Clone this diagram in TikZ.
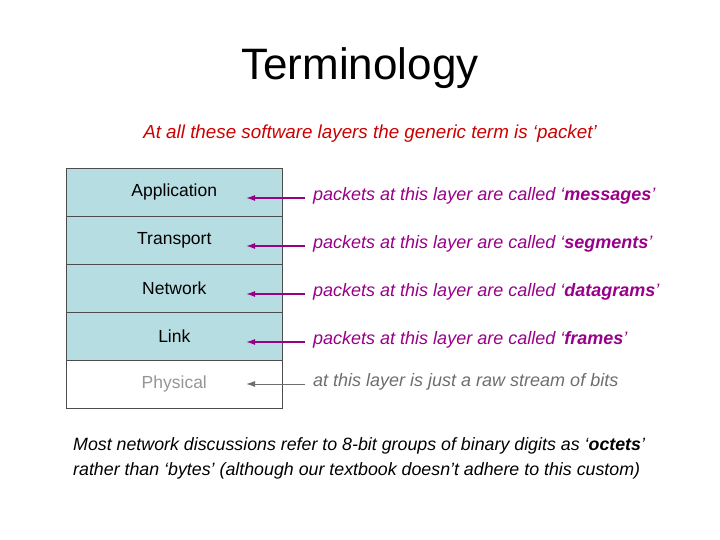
\documentclass[tikz,border=0pt]{standalone}
\usepackage{fontspec}
\setmainfont{Liberation Sans}
\usetikzlibrary{arrows.meta}
\definecolor{boxc}{RGB}{182,221,226}
\definecolor{mag}{RGB}{153,0,136}
\definecolor{redt}{RGB}{204,0,0}
\definecolor{grayt}{RGB}{150,150,150}
\definecolor{grayl}{RGB}{110,110,110}
\begin{document}
\begin{tikzpicture}[x=1pt,y=-1pt,
  layer/.style={draw=black!70,line width=0.6pt,minimum width=216pt,minimum height=48pt,inner sep=0pt,font=\fontsize{17.5}{20}\selectfont,anchor=north west},
  lbl/.style={anchor=west,font=\fontsize{18}{20}\selectfont\itshape,inner sep=0pt},
  arr/.style={-{Latex[length=9pt,width=6pt]},line width=1.4pt,mag}]
\useasboundingbox (0,0) rectangle (720,540);
\node[font=\fontsize{44}{50}\selectfont] (title) at (360,68) {Terminology};
\node[font=\fontsize{18.8}{20}\selectfont\itshape,text=redt] (sub) at (370,134) {At all these software layers the generic term is ‘packet’};
\node[layer,fill=boxc] (app) at (66,168) {\raisebox{-3pt}{Application}};
\node[layer,fill=boxc] (tra) at (66,216) {\raisebox{-3pt}{Transport}};
\node[layer,fill=boxc] (net) at (66,264) {\raisebox{-3pt}{Network}};
\node[layer,fill=boxc] (lnk) at (66,312) {\raisebox{-3pt}{Link}};
\node[layer,fill=white,text=grayt] (phy) at (66,360) {\raisebox{-3pt}{Physical}};
\node[lbl,text=mag] (l1) at (313,196) {packets at this layer are called ‘\textbf{messages}’};
\node[lbl,text=mag] (l2) at (313,244) {packets at this layer are called ‘\textbf{segments}’};
\node[lbl,text=mag] (l3) at (313,292) {packets at this layer are called ‘\textbf{datagrams}’};
\node[lbl,text=mag] (l4) at (313,340) {packets at this layer are called ‘\textbf{frames}’};
\node[lbl,text=grayl] (l5) at (313,382) {at this layer is just a raw stream of bits};
\coordinate (a1) at (305,198); \coordinate (b1) at (246,198);
\coordinate (a2) at (305,246); \coordinate (b2) at (246,246);
\coordinate (a3) at (305,294); \coordinate (b3) at (246,294);
\coordinate (a4) at (305,342); \coordinate (b4) at (246,342);
\coordinate (a5) at (305,384); \coordinate (b5) at (246,384);
\draw[arr] (a1) -- (b1);
\draw[arr] (a2) -- (b2);
\draw[arr] (a3) -- (b3);
\draw[arr] (a4) -- (b4);
\draw[arr,grayl,line width=1pt] (a5) -- (b5);
\node[anchor=north west,align=left,inner sep=0pt,font=\fontsize{17.8}{25}\selectfont\itshape] (foot) at (73,437) {Most network discussions refer to 8-bit groups of binary digits as ‘\textbf{octets}’\\rather than ‘bytes’ (although our textbook doesn’t adhere to this custom)};
\end{tikzpicture}
\end{document}
